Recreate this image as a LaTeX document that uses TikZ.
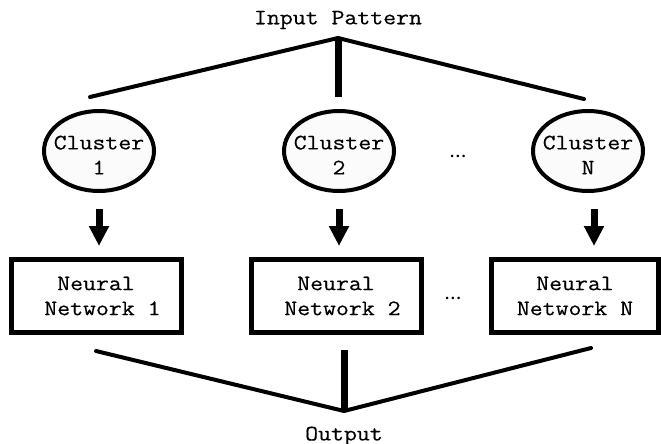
\documentclass[tikz,border=0pt]{standalone}
\usepackage{fontspec}
\newfontfamily\mono{Latin Modern Mono}[FakeStretch=1.14,FakeBold=0.4]
\usetikzlibrary{arrows.meta,shapes.geometric}
\tikzset{
  txt/.style={font=\mono\fontsize{22}{25}\selectfont, align=center, inner sep=0pt},
  cluster/.style={ellipse, draw, line width=4pt, fill=gray!3, minimum width=110pt,
    minimum height=80pt, inner sep=0pt},
  netbox/.style={rectangle, draw, line width=5pt, fill=white, minimum width=170pt,
    minimum height=73pt, inner sep=0pt, txt},
  fan/.style={line width=4pt, line cap=round},
  trunk/.style={line width=7pt},
  down/.style={line width=7pt, -{Triangle[length=20pt,width=19pt]},
    shorten <=16pt, shorten >=11pt},
  more/.style={font=\fontsize{9}{9}\selectfont, inner sep=0pt}
}
\begin{document}
\begin{tikzpicture}[x=1pt,y=-1pt]
  \useasboundingbox (0,0) rectangle (661,444);

  % titles
  \node[txt] (in) at (338,20) {Input Pattern};
  \node[txt] (out) at (344,436) {Output};

  % splitting lines at the top
  \coordinate (top) at (338,38);
  \coordinate (t1) at (90,97);
  \coordinate (t2) at (338,97);
  \coordinate (tn) at (584,99);
  \draw[fan] (top) -- (t1);
  \draw[fan] (top) -- (tn);
  \draw[trunk] (top) -- (t2);

  % clusters: outline and caption
  \node[cluster] (c1) at (99,151) {};
  \node[cluster] (c2) at (339,151) {};
  \node[cluster] (cn) at (588,151) {};
  \node[txt] (c1t) at (99,155) {Cluster\\1};
  \node[txt] (c2t) at (339,155) {Cluster\\2};
  \node[txt] (cnt) at (588,155) {Cluster\\N};
  \node[more] (dc) at (458,157) {\textbullet\hspace{-1.5pt}\textbullet\hspace{-1.5pt}\textbullet};

  % networks
  \node[netbox] (n1) at (96,296) {Neural\\\hphantom{x}Network 1};
  \node[netbox] (n2) at (336,296) {Neural\\\hphantom{x}Network 2};
  \node[netbox, minimum width=167pt] (nn) at (575,296) {Neural\\Network N};
  \node[more] (dn) at (453,299) {\textbullet\hspace{-1.5pt}\textbullet\hspace{-1.5pt}\textbullet};

  % cluster -> network arrows
  \draw[down] (c1.south) -- (c1.south |- n1.north);
  \draw[down] (c2.south) -- (c2.south |- n2.north);
  \draw[down] ([xshift=6pt]cn.south) -- ([xshift=6pt]cn.south |- nn.north);

  % merging lines at the bottom
  \coordinate (bot) at (344,411);
  \coordinate (b1) at (96,351);
  \coordinate (b2) at (344,350);
  \coordinate (bn) at (591,348);
  \draw[fan] (b1) -- (bot);
  \draw[fan] (bn) -- (bot);
  \draw[trunk] (b2) -- (bot);
\end{tikzpicture}
\end{document}
